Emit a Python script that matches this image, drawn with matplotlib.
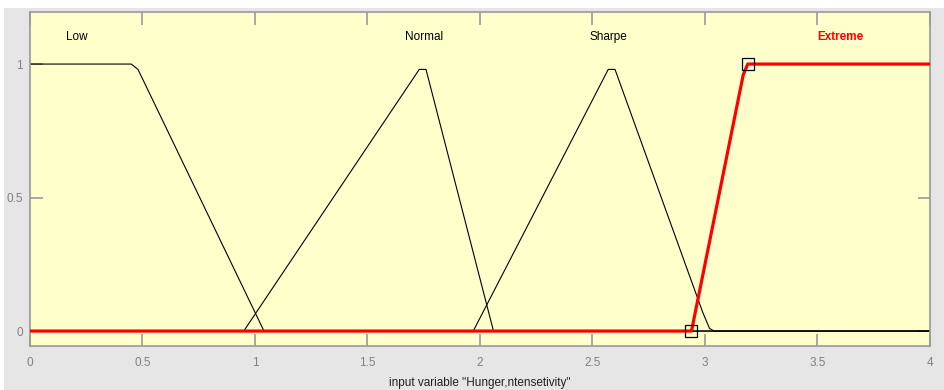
import matplotlib
matplotlib.use("Agg")
import matplotlib.pyplot as plt
from matplotlib.patches import Rectangle

plt.rcParams['font.family'] = ['Liberation Sans', 'DejaVu Sans']

# membership functions of "Hunger,ntensetivity" (vertices)
low_x = [0.0, 0.45, 0.48, 1.04, 4.0]
low_y = [1.0, 1.0, 0.98, 0.0, 0.0]

normal_x = [0.0, 0.95, 1.73, 1.76, 2.06, 4.0]
normal_y = [0.0, 0.0, 0.98, 0.98, 0.0, 0.0]

sharpe_x = [0.0, 1.97, 2.57, 2.60, 2.99, 3.02, 3.04, 4.0]
sharpe_y = [0.0, 0.0, 0.98, 0.98, 0.07, 0.01, 0.0, 0.0]

extreme_x = [0.0, 2.94, 3.17, 3.19, 4.0]
extreme_y = [0.0, 0.0, 0.96, 1.0, 1.0]
extreme_handles_x = [2.94, 3.19]
extreme_handles_y = [0.0, 1.0]

mf_names = ['Low', 'Normal', 'Sharpe', 'Extreme']
label_x = [0.21, 1.75, 2.57, 3.6]
label_y = 1.1

x_ticks = [0, 0.5, 1, 1.5, 2, 2.5, 3, 3.5, 4]
x_tick_labels = ['0', '0.5', '1', '1.5', '2', '2.5', '3', '3.5', '4']
y_ticks = [0, 0.5, 1]
y_tick_labels = ['0', '0.5', '1']

fig = plt.figure(figsize=(9.45, 3.90), dpi=100, facecolor='white')
fig.patches.append(Rectangle((4 / 945, 0), 1, 1 - 8 / 390, transform=fig.transFigure,
                             facecolor='#e6e6e6', edgecolor='none', zorder=-10))

ax = fig.add_axes([30 / 945, 1 - 346 / 390, 900 / 945, 334 / 390])
ax.set_facecolor('#ffffcc')

for xs, ys in [(low_x, low_y), (normal_x, normal_y), (sharpe_x, sharpe_y)]:
    ax.plot(xs, ys, color='black', lw=0.8)

ax.plot(extreme_x, extreme_y, color='red', lw=2.3, zorder=3)
ax.plot(extreme_handles_x, extreme_handles_y, ls='none', marker='s', ms=8,
        mfc='none', mec='black', mew=0.9, zorder=4)

for name, lx in zip(mf_names, label_x):
    col = 'red' if name == 'Extreme' else 'black'
    ax.text(lx, label_y, name, ha='center', va='center', fontsize=8.5, color=col,
            fontweight='bold' if name == 'Extreme' else 'normal')

ax.set_xlim(0, 4)
ax.set_ylim(-0.056, 1.195)
ax.set_xticks(x_ticks)
ax.set_xticklabels(x_tick_labels)
ax.set_yticks(y_ticks)
ax.set_yticklabels(y_tick_labels)
ax.tick_params(axis='both', direction='in', length=9, width=1.2, color='#999999',
               labelcolor='#808080', labelsize=8.5, top=True, right=True)
ax.tick_params(axis='x', pad=8)
ax.tick_params(axis='y', pad=5)
for s in ax.spines.values():
    s.set_color('#999999')
    s.set_linewidth(1.2)

ax.set_xlabel('input variable "Hunger,ntensetivity"', fontsize=8.5, color='#202020', labelpad=6)

fig.savefig('out.png', dpi=100, facecolor=fig.get_facecolor())
